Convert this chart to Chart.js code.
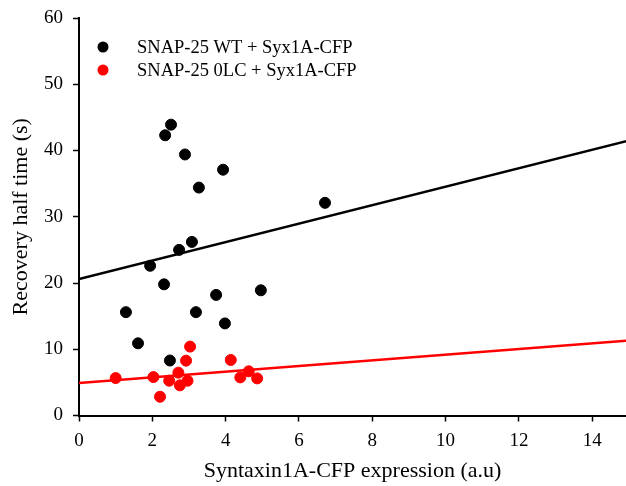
<!DOCTYPE html>
<html>
<head>
<meta charset="utf-8">
<script src="https://cdn.jsdelivr.net/npm/chart.js@4"></script>
<style>
  html, body { margin: 0; padding: 0; background: #fff; }
  #wrap { width: 626px; height: 486px; }
</style>
</head>
<body>
<div id="wrap"><canvas id="grafico" width="626" height="486"></canvas></div>
<script>
// Datos
const etiquetaWT = 'SNAP-25 WT + Syx1A-CFP';
const etiqueta0LC = 'SNAP-25 0LC + Syx1A-CFP';

const wtX = [2.35, 2.51, 2.89, 3.93, 3.27, 6.71, 3.08, 2.73, 1.94, 2.32, 3.74, 4.96, 1.28, 3.19, 3.98, 1.61, 2.48];
const wtY = [42.3, 43.9, 39.4, 37.1, 34.4, 32.1, 26.2, 25.0, 22.6, 19.8, 18.2, 18.9, 15.6, 15.6, 13.9, 10.9, 8.3];

const lcX = [1.00, 2.03, 2.46, 2.71, 2.75, 2.21, 2.92, 2.96, 3.03, 4.14, 4.40, 4.63, 4.86];
const lcY = [5.65, 5.8, 5.25, 6.47, 4.55, 2.83, 8.28, 5.25, 10.4, 8.38, 5.75, 6.67, 5.6];

// Rectas de regresión (extremos)
const ajusteWTX = [0, 15];
const ajusteWTY = [20.6, 41.5];
const ajuste0LCX = [0, 15];
const ajuste0LCY = [4.9, 11.3];

// Marcas del eje X
const marcasX = [0, 2, 4, 6, 8, 10, 12, 14];

const ejeXTitulo = 'Syntaxin1A-CFP expression (a.u)';
const ejeYTitulo = 'Recovery half time (s)';

const aPuntos = (xs, ys) => xs.map((x, i) => ({ x: x, y: ys[i] }));

const fuente = "'Liberation Serif', 'Times New Roman', serif";

// Leyenda dentro del área del gráfico
const leyendaInterna = {
    id: 'leyendaInterna',
    afterDraw(chart) {
        const ctx = chart.ctx;
        const area = chart.chartArea;
        let y = area.top + 29;
        ctx.save();
        chart.data.datasets.forEach(ds => {
            if (ds.type === 'line') return;
            ctx.beginPath();
            ctx.fillStyle = ds.backgroundColor;
            ctx.arc(area.left + 24, y, 5.5, 0, Math.PI * 2);
            ctx.fill();
            ctx.fillStyle = '#000';
            ctx.font = '18.5px ' + fuente;
            ctx.textBaseline = 'middle';
            ctx.fillText(ds.label, area.left + 58, y + 1);
            y += 23;
        });
        ctx.restore();
    }
};

const chart = new Chart(document.getElementById('grafico'), {
    type: 'scatter',
    data: {
        datasets: [
            {
                label: etiquetaWT,
                data: aPuntos(wtX, wtY),
                backgroundColor: '#000',
                borderColor: '#000',
                pointRadius: 5.5,
                pointHoverRadius: 5.5
            },
            {
                label: etiqueta0LC,
                data: aPuntos(lcX, lcY),
                backgroundColor: '#ff0000',
                borderColor: '#ff0000',
                pointRadius: 5.5,
                pointHoverRadius: 5.5
            },
            {
                type: 'line',
                label: 'ajuste WT',
                data: aPuntos(ajusteWTX, ajusteWTY),
                borderColor: '#000',
                borderWidth: 2.5,
                pointRadius: 0,
                fill: false
            },
            {
                type: 'line',
                label: 'ajuste 0LC',
                data: aPuntos(ajuste0LCX, ajuste0LCY),
                borderColor: '#ff0000',
                borderWidth: 2.5,
                pointRadius: 0,
                fill: false
            }
        ]
    },
    options: {
        responsive: false,
        animation: false,
        layout: { autoPadding: false, padding: { top: 0, right: 0, left: 2, bottom: 0 } },
        plugins: {
            legend: { display: false },
            tooltip: { enabled: false }
        },
        scales: {
            x: {
                type: 'linear',
                min: 0,
                max: 14.92,
                afterBuildTicks: (escala) => {
                    escala.ticks = marcasX.map(v => ({ value: v }));
                },
                afterFit: (escala) => {
                    escala.height = 70.5;
                    escala.paddingLeft = 0;
                    escala.paddingRight = 0;
                },
                ticks: {
                    color: '#000',
                    font: { family: fuente, size: 19 },
                    padding: 8
                },
                grid: {
                    drawOnChartArea: false,
                    drawTicks: true,
                    tickLength: 6,
                    tickWidth: 1.5,
                    color: '#000'
                },
                border: { display: true, color: '#000', width: 2 },
                title: {
                    display: true,
                    text: ejeXTitulo,
                    color: '#000',
                    font: { family: fuente, size: 22 },
                    padding: { top: 6, bottom: 2 }
                }
            },
            y: {
                min: 0,
                max: 60,
                afterFit: (escala) => {
                    escala.width = 77;
                    escala.paddingTop = 18;
                },
                ticks: {
                    stepSize: 10,
                    color: '#000',
                    font: { family: fuente, size: 19 },
                    padding: 10
                },
                grid: {
                    drawOnChartArea: false,
                    drawTicks: true,
                    tickLength: 6,
                    tickWidth: 1.5,
                    color: '#000'
                },
                border: { display: true, color: '#000', width: 2 },
                title: {
                    display: true,
                    text: ejeYTitulo,
                    color: '#000',
                    font: { family: fuente, size: 22 },
                    padding: { top: 6, bottom: 8 }
                }
            }
        }
    },
    plugins: [leyendaInterna]
});
</script>
</body>
</html>
